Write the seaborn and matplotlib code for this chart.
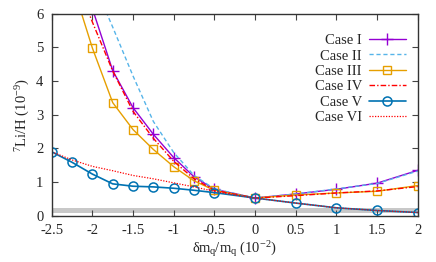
import numpy as np
import matplotlib
matplotlib.use("Agg")
import matplotlib.pyplot as plt
import seaborn as sns

# data
x_I = [-2.25, -2, -1.75, -1.5, -1.25, -1, -0.75, -0.5, 0, 0.5, 1, 1.5, 2]
y_I = [8.6, 6.15, 4.31, 3.21, 2.42, 1.73, 1.16, 0.79, 0.53, 0.65, 0.79, 0.97, 1.35]

x_II = [-2.25, -2, -1.75, -1.5, -1.25, -1, -0.75, -0.5, 0, 0.5, 1, 1.5, 2]
y_II = [9.5, 7.0, 5.6, 4.15, 2.8, 1.88, 1.2, 0.8, 0.53, 0.65, 0.8, 0.96, 1.33]

x_III = [-2.25, -2, -1.75, -1.5, -1.25, -1, -0.75, -0.5, 0, 0.5, 1, 1.5, 2]
y_III = [6.9, 4.98, 3.36, 2.56, 1.97, 1.46, 1.04, 0.76, 0.53, 0.62, 0.68, 0.73, 0.9]

x_IV = [-2.25, -2, -1.75, -1.5, -1.25, -1, -0.75, -0.5, 0, 0.5, 1, 1.5, 2]
y_IV = [7.3, 5.75, 4.3, 3.1, 2.3, 1.62, 1.1, 0.76, 0.53, 0.6, 0.68, 0.74, 0.87]

x_V = [-2.5, -2.25, -2, -1.75, -1.5, -1.25, -1, -0.75, -0.5, 0, 0.5, 1, 1.5, 2]
y_V = [1.9, 1.59, 1.24, 0.95, 0.88, 0.86, 0.82, 0.76, 0.69, 0.53, 0.38, 0.24, 0.16, 0.1]

x_VI = [-2.5, -2.25, -2, -1.75, -1.5, -1.25, -1, -0.75, -0.5, -0.25, 0, 0.5, 1, 1.5, 2]
y_VI = [1.9, 1.66, 1.47, 1.34, 1.2, 1.1, 0.98, 0.86, 0.73, 0.62, 0.53, 0.38, 0.24, 0.16, 0.1]

obs_band = (0.09, 0.22)

x_ticks = [-2.5, -2, -1.5, -1, -0.5, 0, 0.5, 1, 1.5, 2]
x_ticklabels = ["-2.5", "-2", "-1.5", "-1", "-0.5", "0", "0.5", "1", "1.5", "2"]

sns.set_style("ticks")
plt.rcParams["font.family"] = ["Liberation Serif", "DejaVu Serif"]
plt.rcParams["mathtext.fontset"] = "custom"
plt.rcParams["mathtext.rm"] = "Liberation Serif"
plt.rcParams["mathtext.default"] = "regular"

fig = plt.figure(figsize=(4.36, 2.62), dpi=100)
ax = fig.add_axes([0.1186, 0.176, 0.8394, 0.772])

ax.axhspan(*obs_band, color="#c8c8c8", lw=0, zorder=0)

sns.lineplot(x=x_I, y=y_I, ax=ax, color="#9400d3", lw=1.0, marker="+", ms=8,
             mec="#9400d3", mew=1.0, sort=False, label="Case I")
sns.lineplot(x=x_II, y=y_II, ax=ax, color="#56b4e9", lw=1.0, linestyle=(0, (3, 2)),
             sort=False, label="Case II")
sns.lineplot(x=x_III, y=y_III, ax=ax, color="#e69f00", lw=1.0, marker="s", ms=6,
             mfc="none", mec="#e69f00", mew=1.0, sort=False, label="Case III")
sns.lineplot(x=x_IV, y=y_IV, ax=ax, color="#ff0000", lw=1.0, linestyle=(0, (4, 1.5, 1, 1.5)),
             sort=False, label="Case IV")
sns.lineplot(x=x_V, y=y_V, ax=ax, color="#0072b2", lw=1.2, marker="o", ms=6.5,
             mfc="none", mec="#0072b2", mew=1.1, sort=False, label="Case V")
sns.lineplot(x=x_VI, y=y_VI, ax=ax, color="#ff0000", lw=0.9, linestyle=(0, (1, 1.2)),
             sort=False, label="Case VI")

ax.set_xlim(-2.5, 2)
ax.set_ylim(0, 6)
ax.set_xticks(x_ticks)
ax.set_xticklabels(x_ticklabels)
ax.set_yticks(range(0, 7))
ax.tick_params(direction="in", top=True, right=True, length=4, width=0.8,
               labelsize=10.5, color="#444444")
ax.tick_params(axis="x", pad=6)
ax.tick_params(axis="y", pad=6)
for s in ax.spines.values():
    s.set_linewidth(1.0)
    s.set_color("#333333")

ax.set_xlabel("δm$_q$/m$_q$ (10$^{-2}$)", fontsize=10.5, labelpad=1)
ax.set_ylabel("$^7$Li/H (10$^{-9}$)", fontsize=10.5, labelpad=3)

ax.legend(loc="upper right", bbox_to_anchor=(0.995, 0.95), frameon=False,
          markerfirst=False, fontsize=10.5, handlelength=2.5, labelspacing=0.15,
          borderaxespad=0.3, handletextpad=0.5)

fig.savefig("out.png", dpi=100)
